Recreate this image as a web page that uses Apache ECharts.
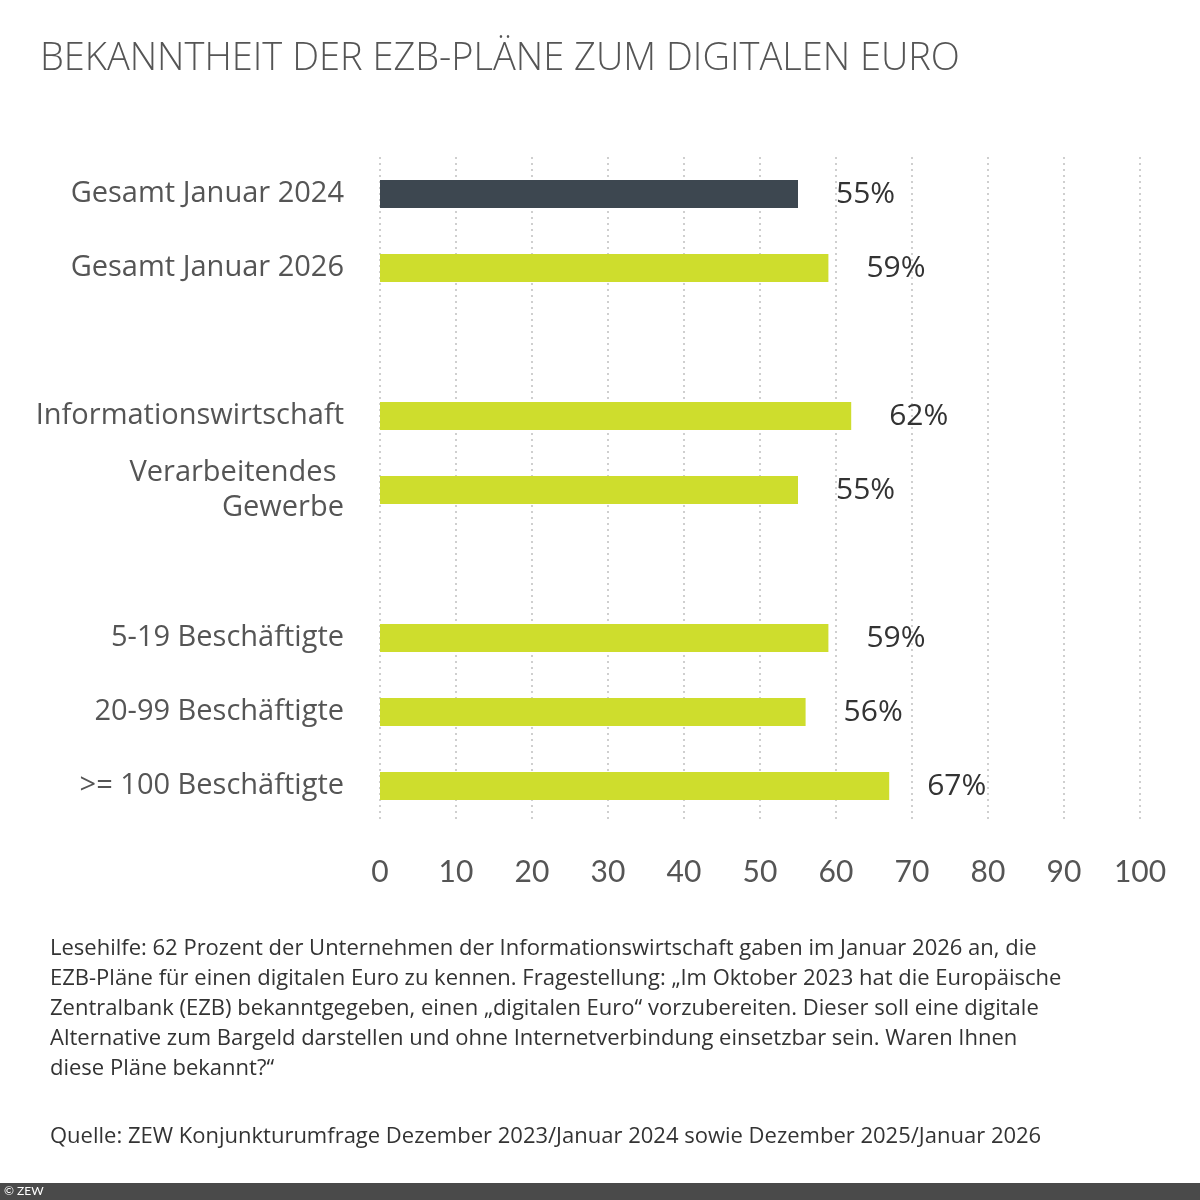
<!DOCTYPE html>
<html>
<head>
<meta charset="utf-8">
<script src="https://cdn.jsdelivr.net/npm/echarts@6/dist/echarts.min.js"></script>
<style>html,body{margin:0;padding:0;background:#fff}#chart{width:1200px;height:1200px}</style>
</head>
<body>
<div id="chart"></div>
<script>
var categories = ['Gesamt Januar 2024', 'Gesamt Januar 2026', '', 'Informationswirtschaft',
  'Verarbeitendes \nGewerbe', '', '5-19 Beschäftigte', '20-99 Beschäftigte', '>= 100 Beschäftigte'];
var values = [55, 59, null, 62, 55, null, 59, 56, 67];
var xTicks = [0, 10, 20, 30, 40, 50, 60, 70, 80, 90, 100];

var font = 'Lato, "Open Sans", sans-serif';
var wide = '"Open Sans", sans-serif';
var chart = echarts.init(document.getElementById('chart'));

var barData = values.map(function (v, i) {
  return {
    value: v,
    itemStyle: { color: i === 0 ? '#3d4750' : '#cedd2d' }
  };
});

chart.setOption({
  animation: false,
  grid: { left: 380, right: 60, top: 157, height: 666 },
  xAxis: {
    type: 'value', min: 0, max: 100, interval: 10,
    axisLine: { show: false }, axisTick: { show: false },
    splitLine: { show: true, lineStyle: { color: '#cfcfcf', type: [2, 4], width: 2 } },
    axisLabel: {
      margin: 34, fontSize: 30, color: '#555', fontFamily: font,
      formatter: function (v) { return xTicks.indexOf(v) >= 0 ? String(v) : ''; }
    }
  },
  yAxis: {
    type: 'category', inverse: true, data: categories,
    axisLine: { show: false }, axisTick: { show: false },
    axisLabel: { margin: 36, fontSize: 29, lineHeight: 35, color: '#555', fontFamily: wide, align: 'right' }
  },
  series: [{
    type: 'bar', data: barData, barWidth: 28,
    label: {
      show: true, position: 'right', distance: 38,
      fontSize: 30, color: '#333', fontFamily: wide, fontWeight: 500,
      formatter: function (p) { return p.value == null ? '' : p.value + '%'; }
    }
  }],
  graphic: [
    { type: 'text', left: 40, top: 40,
      style: { text: 'BEKANNTHEIT DER EZB-PLÄNE ZUM DIGITALEN EURO', fontSize: 38, fill: '#555', fontFamily: wide, fontWeight: 300 } },
    { type: 'text', left: 50, top: 934,
      style: { text: 'Lesehilfe: 62 Prozent der Unternehmen der Informationswirtschaft gaben im Januar 2026 an, die\nEZB-Pläne für einen digitalen Euro zu kennen. Fragestellung: „Im Oktober 2023 hat die Europäische\nZentralbank (EZB) bekanntgegeben, einen „digitalen Euro“ vorzubereiten. Dieser soll eine digitale\nAlternative zum Bargeld darstellen und ohne Internetverbindung einsetzbar sein. Waren Ihnen\ndiese Pläne bekannt?“',
        fontSize: 22, lineHeight: 30, fill: '#333', fontFamily: wide } },
    { type: 'text', left: 50, top: 1126,
      style: { text: 'Quelle: ZEW Konjunkturumfrage Dezember 2023/Januar 2024 sowie Dezember 2025/Januar 2026',
        fontSize: 22, fill: '#333', fontFamily: wide } },
    { type: 'rect', left: 0, top: 1183, shape: { width: 1200, height: 17 }, style: { fill: '#4a4a4a' } },
    { type: 'text', left: 4, top: 1185, style: { text: '© ZEW', fontSize: 12, fill: '#fff', fontFamily: font } }
  ]
});
</script>
</body>
</html>
